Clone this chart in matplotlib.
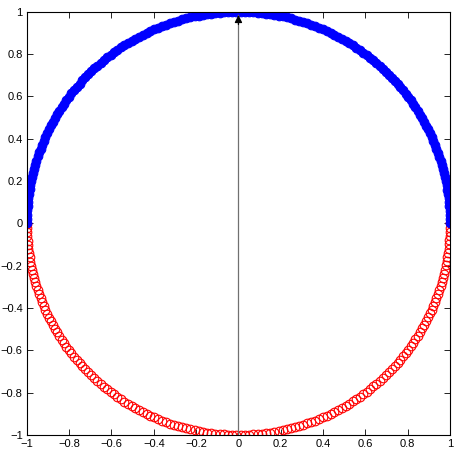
import numpy as np
import matplotlib
matplotlib.use('Agg')
import matplotlib.pyplot as plt

radius = 1.0
angle_step = 0.02
upper_angles = np.arange(0, np.pi + angle_step / 2, angle_step)
lower_angles = -upper_angles

ticks = [-1, -0.8, -0.6, -0.4, -0.2, 0, 0.2, 0.4, 0.6, 0.8, 1]
tick_labels = ['\u22121', '\u22120.8', '\u22120.6', '\u22120.4', '\u22120.2', '0',
               '0.2', '0.4', '0.6', '0.8', '1']

arrow_start = (0, -1)
arrow_end = (0, 0.985)

plt.rcParams['font.family'] = ['Liberation Sans', 'DejaVu Sans']

fig = plt.figure(figsize=(4.63, 4.54), dpi=100)
ax = fig.add_axes([0.058, 0.042, 0.914, 0.932])

ax.plot(radius * np.cos(lower_angles), radius * np.sin(lower_angles), 'o',
        mfc='none', mec='red', ms=6.2, mew=0.8)
ax.plot(radius * np.cos(upper_angles), radius * np.sin(upper_angles), 'o',
        mfc='blue', mec='blue', ms=6.2, mew=0.8)

ax.plot([arrow_start[0], arrow_end[0]], [arrow_start[1], arrow_end[1]],
        color='#707070', lw=0.9)
ax.annotate('', xy=arrow_end, xytext=(0, 0.94),
            arrowprops=dict(arrowstyle='-|>', color='black', lw=0.9,
                            mutation_scale=11, shrinkA=0, shrinkB=0))

ax.set_xlim(-1, 1)
ax.set_ylim(-1, 1)
ax.set_xticks(ticks)
ax.set_yticks(ticks)
ax.set_xticklabels(tick_labels)
ax.set_yticklabels(tick_labels)
ax.tick_params(direction='in', length=4, width=0.6, labelsize=8,
               top=True, right=True, pad=3)
for s in ax.spines.values():
    s.set_linewidth(0.8)

fig.savefig('out.png', dpi=100)
